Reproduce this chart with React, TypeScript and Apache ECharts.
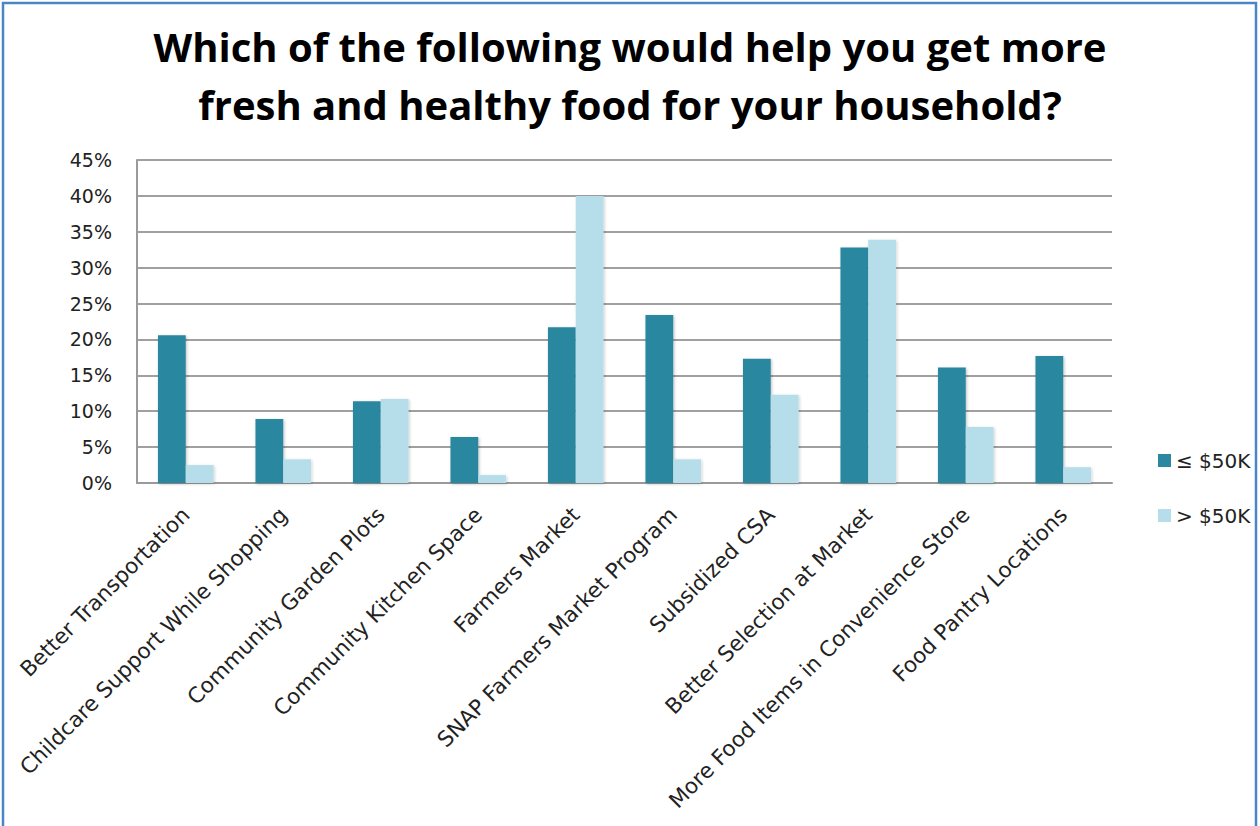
import React, { useEffect, useRef } from "react";
import * as echarts from "echarts";

const categories = [
  "Better Transportation",
  "Childcare Support While Shopping",
  "Community Garden Plots",
  "Community Kitchen Space",
  "Farmers Market",
  "SNAP Farmers Market Program",
  "Subsidized CSA",
  "Better Selection at Market",
  "More Food Items in Convenience Store",
  "Food Pantry Locations",
];
const lowIncome = [20.6, 8.9, 11.4, 6.4, 21.7, 23.4, 17.3, 32.8, 16.1, 17.7];
const highIncome = [2.5, 3.3, 11.7, 1.1, 40.0, 3.3, 12.3, 33.9, 7.8, 2.2];
const seriesNames = ["≤ $50K", "> $50K"];
const titleText = "Which of the following would help you get more\nfresh and healthy food for your household?";

export default function App() {
  const ref = useRef<HTMLDivElement>(null);
  useEffect(() => {
    document.body.style.margin = "0";
    const chart = echarts.init(ref.current!, null, { renderer: "svg" });
    const font = "'DejaVu Sans', sans-serif";
    chart.setOption({
      animation: false,
      backgroundColor: "#ffffff",
      title: {
        text: titleText,
        left: "center",
        top: 12,
        textStyle: {
          fontFamily: "'Open Sans', sans-serif",
          fontWeight: "bold",
          fontSize: 40,
          lineHeight: 58,
          color: "#000000",
        },
      },
      graphic: [
        {
          type: "rect",
          shape: { x: 3, y: 3, width: 1253, height: 840 },
          style: { fill: "none", stroke: "#4A86C5", lineWidth: 2.5 },
          silent: true,
        },
      ],
      legend: {
        orient: "vertical",
        left: 1153,
        top: 444,
        itemWidth: 13,
        itemHeight: 13,
        itemGap: 32,
        icon: "rect",
        textStyle: { fontFamily: font, fontSize: 20, lineHeight: 23, color: "#222222" },
        data: seriesNames,
      },
      grid: { left: 137, right: 148, top: 160, bottom: 343, containLabel: false },
      xAxis: {
        type: "category",
        data: categories,
        axisLine: { show: true, lineStyle: { color: "#9a9a9a", width: 2 } },
        axisTick: { show: false },
        axisLabel: {
          interval: 0,
          rotate: 45,
          margin: 28,
          fontFamily: font,
          fontSize: 21.5,
          color: "#222222",
        },
      },
      yAxis: {
        type: "value",
        min: 0,
        max: 45,
        interval: 5,
        axisLine: { show: true, lineStyle: { color: "#9a9a9a", width: 2 } },
        axisTick: { show: false },
        splitLine: { show: true, lineStyle: { color: "#a0a0a0", width: 2 } },
        axisLabel: {
          formatter: "{value}%",
          margin: 25,
          fontFamily: font,
          fontSize: 19,
          color: "#222222",
        },
      },
      series: [
        {
          name: seriesNames[0],
          type: "bar",
          data: lowIncome,
          barGap: "0%",
          barCategoryGap: "43%",
          itemStyle: {
            color: "#2C87A0",
            shadowColor: "rgba(0,0,0,0.25)",
            shadowBlur: 3,
            shadowOffsetX: 1,
            shadowOffsetY: 1,
          },
        },
        {
          name: seriesNames[1],
          type: "bar",
          data: highIncome,
          barGap: "0%",
          barCategoryGap: "43%",
          itemStyle: {
            color: "#B5DEEA",
            shadowColor: "rgba(0,0,0,0.2)",
            shadowBlur: 3,
            shadowOffsetX: 1,
            shadowOffsetY: 1,
          },
        },
      ],
    });
    return () => chart.dispose();
  }, []);
  return (
    <div
      ref={ref}
      style={{ position: "absolute", left: 0, top: 0, width: 1260, height: 826 }}
    />
  );
}
